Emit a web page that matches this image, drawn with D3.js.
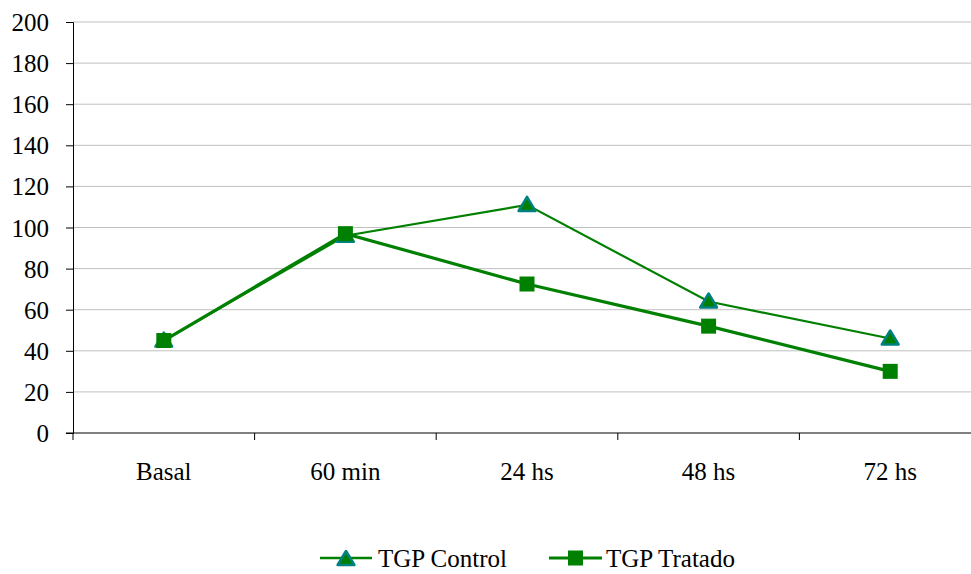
<!DOCTYPE html>
<html>
<head>
<meta charset="utf-8">
<script src="https://cdn.jsdelivr.net/npm/d3@7"></script>
<style>
  html, body { margin: 0; padding: 0; background: #fff; }
  svg { display: block; }
</style>
</head>
<body>
<svg id="chart" width="971" height="574"></svg>
<script>
// Time points and measured values
const categories = ["Basal", "60 min", "24 hs", "48 hs", "72 hs"];
const controlValues = [45, 96, 111, 64, 46];
const tratadoValues = [45, 97, 72.5, 52, 30];
const yTicks = [0, 20, 40, 60, 80, 100, 120, 140, 160, 180, 200];

const FONT = "Times New Roman";
const FS = 25;

const svg = d3.select("#chart");
const margin = { left: 73, top: 22, right: 981, bottom: 433 };

const x = d3.scaleBand().domain(categories).range([margin.left, margin.right]);
const y = d3.scaleLinear().domain([0, 200]).range([margin.bottom, margin.top]);

// Horizontal gridlines
svg.append("g")
  .selectAll("line")
  .data(yTicks.filter(d => d > 0))
  .join("line")
  .attr("x1", margin.left).attr("x2", margin.right)
  .attr("y1", d => y(d)).attr("y2", d => y(d))
  .attr("stroke", "#c0c0c0").attr("stroke-width", 1);

// Y axis
const yAxis = svg.append("g")
  .attr("transform", `translate(${margin.left},0)`)
  .call(d3.axisLeft(y).tickValues(yTicks).tickSize(7).tickPadding(17).tickFormat(d3.format("d")));
yAxis.attr("font-family", FONT).attr("font-size", FS);
yAxis.select(".domain").attr("stroke", "#000");
yAxis.selectAll(".tick line").attr("stroke", "#000");
yAxis.selectAll("text").attr("fill", "#000").attr("dy", "0.34em");

// X axis with ticks on category boundaries
const xAxisG = svg.append("g").attr("transform", `translate(0,${margin.bottom})`);
xAxisG.append("line")
  .attr("x1", margin.left - 7).attr("x2", margin.right)
  .attr("stroke", "#000");
const boundaries = categories.map(c => x(c)).concat([margin.right]);
xAxisG.selectAll(".bt")
  .data(boundaries)
  .join("line")
  .attr("class", "bt")
  .attr("x1", d => d).attr("x2", d => d)
  .attr("y1", 0).attr("y2", 7)
  .attr("stroke", "#000");
xAxisG.selectAll(".cl")
  .data(categories)
  .join("text")
  .attr("class", "cl")
  .attr("x", d => x(d) + x.bandwidth() / 2)
  .attr("y", 47)
  .attr("text-anchor", "middle")
  .text(d => d);

const cx = d => x(d) + x.bandwidth() / 2;
const line = d3.line().x(d => cx(d[0])).y(d => y(d[1]));

const controlData = categories.map((c, i) => [c, controlValues[i]]);
const tratadoData = categories.map((c, i) => [c, tratadoValues[i]]);

const triPath = s => `M0,${-s}L${s * 1.05},${s * 0.75}L${-s * 1.05},${s * 0.75}Z`;

// Control series
svg.append("path").datum(controlData)
  .attr("d", line).attr("fill", "none")
  .attr("stroke", "#008000").attr("stroke-width", 2.2);

// Tratado series
svg.append("path").datum(tratadoData)
  .attr("d", line).attr("fill", "none")
  .attr("stroke", "#008000").attr("stroke-width", 3.2);

svg.append("g").selectAll("path")
  .data(controlData)
  .join("path")
  .attr("transform", d => `translate(${cx(d[0])},${y(d[1])})`)
  .attr("d", triPath(8))
  .attr("fill", "#008000").attr("stroke", "#008080").attr("stroke-width", 2.5)
  .attr("stroke-linejoin", "round");

svg.append("g").selectAll("rect")
  .data(tratadoData)
  .join("rect")
  .attr("x", d => cx(d[0]) - 7.5).attr("y", d => y(d[1]) - 7.5)
  .attr("width", 15).attr("height", 15)
  .attr("fill", "#008000");

// Legend
const legend = svg.append("g").attr("transform", "translate(0,558)");
legend.append("line").attr("x1", 320).attr("x2", 372).attr("y1", 0).attr("y2", 0)
  .attr("stroke", "#008000").attr("stroke-width", 2.5);
legend.append("path").attr("transform", "translate(346,1)").attr("d", triPath(8))
  .attr("fill", "#008000").attr("stroke", "#008080").attr("stroke-width", 2.5)
  .attr("stroke-linejoin", "round");
legend.append("text").attr("x", 378).attr("y", 9).text("TGP Control");

legend.append("line").attr("x1", 549).attr("x2", 602).attr("y1", 0).attr("y2", 0)
  .attr("stroke", "#008000").attr("stroke-width", 3);
legend.append("rect").attr("x", 568).attr("y", -7.5).attr("width", 15).attr("height", 15)
  .attr("fill", "#008000");
legend.append("text").attr("x", 606).attr("y", 9).text("TGP Tratado");

// Shared text styling
svg.selectAll("text")
  .attr("font-family", FONT)
  .attr("font-size", FS)
  .attr("fill", "#000");
</script>
</body>
</html>
